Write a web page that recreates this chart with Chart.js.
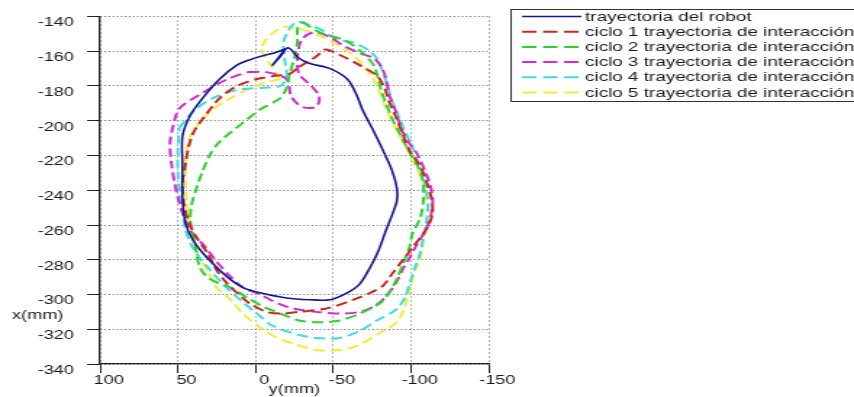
<!DOCTYPE html>
<html>
<head>
<meta charset="utf-8">
<script src="https://cdn.jsdelivr.net/npm/chart.js@4.4.1/dist/chart.umd.min.js"></script>
<style>
  html, body { margin: 0; padding: 0; background: #fff; }
  #chart { display: block; }
</style>
</head>
<body>
<!-- the figure is a stretched export, so the canvas is drawn narrow and shown wide -->
<canvas id="chart" width="589" height="397" style="width:854px;height:397px"></canvas>
<script>
// horizontal axis is y(mm), vertical axis is x(mm)
const yTicks = [100, 50, 0, -50, -100, -150];
const xTicks = [-140, -160, -180, -200, -220, -240, -260, -280, -300, -320, -340];

const legendLabels = [
    'trayectoria del robot',
    'ciclo 1 trayectoria de interacción',
    'ciclo 2 trayectoria de interacción',
    'ciclo 3 trayectoria de interacción',
    'ciclo 4 trayectoria de interacción',
    'ciclo 5 trayectoria de interacción'
];

const robot_y = [-21, -12, -7, 4, 12, 23, 34, 42, 47, 47, 47, 45, 40, 31, 18, 8, -3, -20, -35, -48,
    -59, -67, -74, -79, -84, -88, -91, -91, -88, -82, -76, -69, -65, -59, -48, -35, -28, -21, -16, -11, -18];
const robot_x = [-158, -161, -162, -165, -168, -176, -187, -197, -209, -225, -244, -259, -269, -279, -290, -296, -299, -302, -303, -303,
    -299, -294, -284, -275, -263, -254, -246, -239, -229, -217, -206, -194, -185, -176, -170, -167, -164, -158, -163, -168, -160];

const ciclo1_y = [-28, -39, -45, -54, -67, -78, -83, -86, -90, -94, -99, -106, -110, -113, -114, -112, -108, -101, -95, -88,
    -82, -74, -63, -46, -28, -16, -7, 4, 12, 18, 25, 31, 38, 43, 46, 47, 45, 43, 40, 34, 23, 12, -1, -14, -22, -28];
const ciclo1_x = [-169, -163, -159, -162, -168, -174, -181, -189, -197, -206, -217, -226, -235, -244, -252, -259, -265, -273, -280, -288,
    -295, -299, -303, -308, -310, -311, -310, -305, -299, -294, -286, -276, -267, -258, -248, -236, -225, -215, -207, -199, -187, -180, -176, -174, -173, -169];

const ciclo2_y = [-30, -41, -58, -69, -76, -79, -81, -84, -88, -92, -96, -101, -106, -108, -108, -106, -101, -99, -95, -91,
    -86, -80, -67, -54, -41, -28, -16, -5, 5, 16, 25, 31, 36, 38, 39, 41, 42, 41, 38, 34,
    29, 23, 15, 5, -4, -16, -20, -22, -25, -27, -27, -30];
const ciclo2_x = [-143, -149, -154, -161, -168, -176, -183, -190, -199, -206, -213, -221, -229, -237, -246, -256, -265, -273, -282, -291,
    -299, -305, -311, -315, -316, -315, -311, -307, -302, -296, -293, -290, -284, -276, -271, -263, -256, -248, -239, -229,
    -219, -212, -206, -199, -193, -187, -181, -173, -164, -154, -147, -143];

const ciclo3_y = [5, -7, -20, -23, -30, -39, -41, -36, -28, -27, -30, -38, -48, -57, -67, -76, -81, -84, -86, -90,
    -94, -99, -104, -110, -113, -114, -113, -110, -104, -99, -95, -90, -83, -76, -67, -54, -39, -24, -14, -3,
    8, 18, 26, 32, 42, 47, 50, 52, 54, 55, 53, 49, 36, 18, 5];
const ciclo3_x = [-172, -172, -176, -186, -192, -192, -186, -180, -173, -163, -153, -149, -152, -157, -161, -164, -169, -176, -185, -194,
    -205, -213, -219, -231, -239, -246, -254, -262, -271, -279, -285, -294, -302, -307, -310, -311, -310, -308, -305, -300,
    -296, -288, -280, -273, -263, -253, -244, -236, -225, -213, -203, -193, -185, -176, -172];

const ciclo4_y = [49, 38, 25, 10, -5, -16, -20, -19, -18, -22, -27, -35, -43, -52, -63, -72, -78, -82, -85, -88,
    -92, -96, -101, -104, -108, -110, -111, -110, -108, -106, -102, -99, -96, -90, -78, -67, -54, -39, -27, -11,
    -1, 10, 21, 29, 36, 41, 45, 47, 49, 50, 50, 49];
const ciclo4_x = [-204, -193, -186, -182, -181, -180, -174, -166, -155, -147, -143, -145, -148, -153, -155, -159, -164, -172, -180, -189,
    -197, -206, -215, -223, -232, -240, -249, -258, -267, -276, -286, -294, -302, -309, -315, -321, -325, -325, -323, -318,
    -311, -303, -294, -286, -279, -272, -263, -252, -240, -229, -217, -204];

const ciclo5_y = [-16, -9, -4, -7, -12, -19, -28, -41, -54, -64, -70, -76, -80, -84, -88, -93, -98, -103, -108, -110,
    -111, -110, -108, -106, -102, -99, -96, -91, -80, -67, -54, -39, -27, -14, -3, 8, 16, 25, 31, 36,
    39, 42, 44, 45, 45, 44, 42, 32, 20, 5, -6, -16];
const ciclo5_x = [-176, -167, -159, -153, -149, -146, -147, -151, -157, -163, -169, -176, -184, -193, -200, -209, -217, -226, -235, -243,
    -252, -260, -269, -279, -288, -298, -307, -316, -322, -329, -332, -332, -329, -325, -319, -311, -303, -296, -286, -279,
    -271, -260, -249, -237, -226, -217, -209, -197, -189, -182, -178, -176];

const FONT = '"Liberation Sans", Arial, Helvetica, sans-serif';
const INK = '#1a1a1a';

function toPoints(ys, xs) {
    return ys.map((v, i) => ({ x: v, y: xs[i] }));
}

function curve(label, ys, xs, color, dashed) {
    return {
        label: label,
        data: toPoints(ys, xs),
        showLine: true,
        borderColor: color,
        backgroundColor: color,
        borderWidth: dashed ? 2 : 1.6,
        borderDash: dashed ? [8, 4] : [],
        pointRadius: 0,
        pointHoverRadius: 0,
        tension: 0.3,
        fill: false
    };
}

// legend box on the right and the horizontal "x(mm)" label
const sideTexts = {
    id: 'sideTexts',
    afterDraw(chart) {
        const ctx = chart.ctx;
        ctx.save();
        ctx.fillStyle = '#fff';
        ctx.fillRect(352, 9, 260, 92);
        ctx.strokeStyle = '#333';
        ctx.lineWidth = 1;
        ctx.strokeRect(352.5, 9.5, 260, 92);

        ctx.font = '13px ' + FONT;
        ctx.textBaseline = 'middle';
        ctx.textAlign = 'left';
        chart.data.datasets.forEach((ds, i) => {
            const y = 16.5 + i * 15.2;
            ctx.strokeStyle = ds.borderColor;
            ctx.lineWidth = ds.borderWidth;
            ctx.setLineDash(ds.borderDash.length ? [10, 4.5] : []);
            ctx.beginPath();
            ctx.moveTo(360, y);
            ctx.lineTo(401, y);
            ctx.stroke();
            ctx.setLineDash([]);
            ctx.fillStyle = INK;
            ctx.fillText(ds.label, 403.5, y + 0.5);
        });

        ctx.font = '12.5px ' + FONT;
        ctx.textAlign = 'center';
        ctx.fillStyle = INK;
        ctx.fillText('x(mm)', 26, chart.scales.y.getPixelForValue(-312));
        ctx.restore();
    }
};

document.addEventListener('DOMContentLoaded', function() {
    const ctx = document.getElementById('chart').getContext('2d');
    new Chart(ctx, {
        type: 'scatter',
        data: {
            datasets: [
                curve(legendLabels[0], robot_y, robot_x, '#16168f', false),
                curve(legendLabels[1], ciclo1_y, ciclo1_x, '#c42a20', true),
                curve(legendLabels[2], ciclo2_y, ciclo2_x, '#2ad42a', true),
                curve(legendLabels[3], ciclo3_y, ciclo3_x, '#d42ad4', true),
                curve(legendLabels[4], ciclo4_y, ciclo4_x, '#40dcdc', true),
                curve(legendLabels[5], ciclo5_y, ciclo5_x, '#f0ec3c', true)
            ]
        },
        options: {
            responsive: false,
            devicePixelRatio: 1,
            animation: false,
            layout: { padding: { top: 15, right: 252, left: 0, bottom: 0 } },
            plugins: {
                legend: { display: false },
                tooltip: { enabled: false }
            },
            scales: {
                x: {
                    type: 'linear',
                    reverse: true,
                    min: -150,
                    max: 100,
                    afterBuildTicks: s => { s.ticks = yTicks.map(v => ({ value: v })); },
                    afterFit: s => { s.height = 33; },
                    grid: { color: '#666', lineWidth: 1, tickLength: 9, tickColor: '#222', tickBorderDash: [] },
                    border: { color: '#222', width: 1.3, dash: [1, 3] },
                    ticks: {
                        color: INK,
                        font: { family: FONT, size: 12.5 },
                        padding: 0,
                        labelOffset: 6,
                        maxRotation: 0,
                        autoSkip: false
                    },
                    title: {
                        display: true,
                        text: 'y(mm)',
                        color: INK,
                        font: { family: FONT, size: 12.5 },
                        padding: 0
                    }
                },
                y: {
                    type: 'linear',
                    min: -340,
                    max: -140,
                    afterBuildTicks: s => { s.ticks = xTicks.map(v => ({ value: v })); },
                    afterFit: s => { s.width = 69; },
                    grid: { color: '#666', lineWidth: 1, tickLength: 9, tickColor: '#222', tickBorderDash: [] },
                    border: { color: '#222', width: 1.3, dash: [1, 1.8] },
                    ticks: {
                        color: INK,
                        font: { family: FONT, size: 12.5 },
                        padding: 9,
                        labelOffset: 6.5,
                        autoSkip: false
                    }
                }
            }
        },
        plugins: [sideTexts]
    });
});
</script>
</body>
</html>
